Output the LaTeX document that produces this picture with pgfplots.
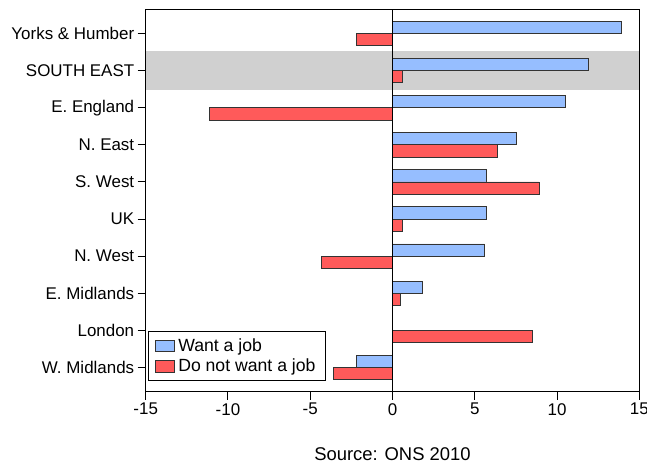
\documentclass[border=0pt]{standalone}
\usepackage{pgfplots}
\pgfplotsset{compat=1.18}
\usepackage{fontspec}
\setmainfont{Liberation Sans}
\definecolor{wantblue}{RGB}{150,190,255}
\definecolor{notred}{RGB}{255,90,90}
\definecolor{bandgray}{RGB}{208,208,208}
\begin{document}
\begin{tikzpicture}[x=1bp,y=1bp]
\useasboundingbox (-145.7,-71.3) rectangle (501.3,391.7);
\begin{axis}[
  name=ax,
  scale only axis, width=493.6bp, height=382.4bp,
  xmin=-15, xmax=15, ymin=-0.65, ymax=9.65,
  xtick={-15,-10,-5,0,5,10,15},
  ytick={0,...,9},
  yticklabels={W. Midlands, London, E. Midlands, N. West, UK, S. West, N. East, E. England, SOUTH EAST, Yorks \& Humber},
  tick pos=left, tick align=outside, major tick length=8bp,
  tick style={line width=1bp, black},
  axis line style={line width=1.2bp},
  /pgf/number format/assume math mode=true,
  xticklabel style={font=\fontsize{17}{20}\selectfont},
  yticklabel style={font=\fontsize{17}{20}\selectfont},
  legend style={at={(0.004,0.028)}, anchor=south west, draw=black, line width=1bp,
    font=\fontsize{17.7}{21}\selectfont, row sep=3bp, inner xsep=6.5bp, inner ysep=5.5bp,
    nodes={inner xsep=3.5bp, inner ysep=1.5bp}},
  legend cell align=left,
  legend image code/.code={\draw[#1] (0bp,-5.8bp) rectangle (19.3bp,5.8bp);},
]
\fill[bandgray] (axis cs:-15,7.485) rectangle (axis cs:15,8.515);
\addplot[xbar, bar width=0.33, bar shift=0.165, fill=wantblue, draw=black!80, line width=0.8bp]
  coordinates {(13.9,9) (11.9,8) (10.5,7) (7.5,6) (5.7,5) (5.7,4) (5.6,3) (1.8,2) (-2.2,0)};
\addlegendentry{Want a job}
\addplot[xbar, bar width=0.33, bar shift=-0.165, fill=notred, draw=black!80, line width=0.8bp]
  coordinates {(-2.2,9) (0.6,8) (-11.1,7) (6.4,6) (8.9,5) (0.6,4) (-4.3,3) (0.5,2) (8.5,1) (-3.6,0)};
\addlegendentry{Do not want a job}
\draw[line width=1bp] (axis cs:0,-0.65) -- (axis cs:0,9.65);
\end{axis}
\node[font=\fontsize{18.5}{22}\selectfont, anchor=base] at ([yshift=-68.5bp]ax.south) {Source: ONS 2010};
\end{tikzpicture}
\end{document}
